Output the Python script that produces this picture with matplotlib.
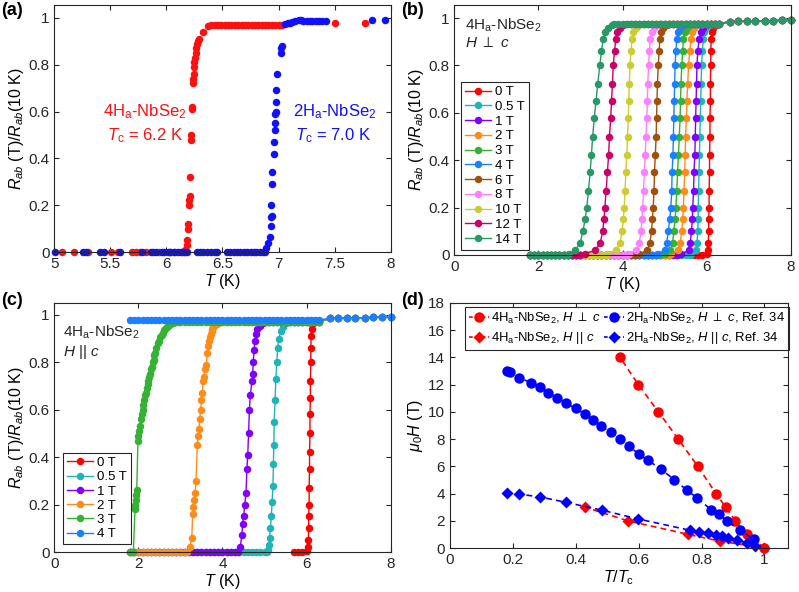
import matplotlib
matplotlib.use('Agg')
import matplotlib.pyplot as plt
from matplotlib.ticker import FuncFormatter, FixedLocator

plt.rcParams.update({
    'font.family': ['Liberation Sans', 'DejaVu Sans'],
    'mathtext.fontset': 'custom',
    'mathtext.rm': 'Liberation Sans',
    'mathtext.it': 'Liberation Sans:italic',
    'mathtext.bf': 'Liberation Sans:bold',
    'mathtext.fallback': 'stixsans',
    'font.size': 10,
    'axes.edgecolor': '#262626',
    'axes.linewidth': 0.8,
    'xtick.color': '#262626', 'ytick.color': '#262626',
    'xtick.direction': 'in', 'ytick.direction': 'in',
    'xtick.top': True, 'ytick.right': True,
    'xtick.major.size': 3.5, 'ytick.major.size': 3.5,
    'xtick.major.width': 0.8, 'ytick.major.width': 0.8,
    'xtick.labelsize': 11, 'ytick.labelsize': 11,
    'axes.labelsize': 11.5,
})

# ---------------- panel (a) data ----------------
a_red_T = [5.065, 5.18, 5.30, 5.51, 5.57, 5.69, 5.73, 5.76, 5.82, 5.93, 6.03, 6.08, 6.14, 6.17,
           6.17, 6.18, 6.185, 6.19, 6.195, 6.2, 6.205, 6.21, 6.21, 6.22, 6.22, 6.225, 6.23, 6.235,
           6.24, 6.245, 6.245, 6.25, 6.255, 6.26, 6.265, 6.27, 6.28, 6.29, 6.33, 6.37,
           6.40, 6.43, 6.46, 6.49, 6.52, 6.55, 6.58, 6.61, 6.64, 6.67, 6.70, 6.73, 6.76, 6.79,
           6.82, 6.85, 6.88, 6.91, 6.94, 6.97, 7.00, 7.03, 7.5, 7.77]
a_red_R = [0, 0, 0, 0, 0, 0, 0, 0, 0, 0, 0, 0, 0, 0,
           0.01, 0.03, 0.05, 0.1, 0.12, 0.2, 0.22, 0.24, 0.32, 0.48, 0.5, 0.61, 0.62, 0.72,
           0.74, 0.76, 0.79, 0.81, 0.83, 0.85, 0.87, 0.89, 0.9, 0.91, 0.94, 0.965,
           0.97, 0.97, 0.97, 0.97, 0.97, 0.97, 0.97, 0.97, 0.97, 0.97, 0.97, 0.97, 0.97, 0.97,
           0.97, 0.97, 0.97, 0.97, 0.97, 0.97, 0.97, 0.97, 0.98, 0.98]
a_blue_T = [5.01, 5.26, 5.28, 5.41, 5.44, 5.59, 5.78, 5.86, 5.88, 5.91, 5.96, 5.98, 6.01, 6.03,
            6.07, 6.1, 6.13, 6.16, 6.18, 6.27, 6.3, 6.33, 6.36, 6.4, 6.43, 6.45, 6.54, 6.57,
            6.6, 6.63, 6.66, 6.69, 6.72, 6.75, 6.78, 6.8, 6.83, 6.86,
            6.88, 6.89, 6.91, 6.92, 6.93, 6.935, 6.94, 6.935, 6.945, 6.945, 6.955, 6.96, 6.965,
            6.97, 6.97, 6.975, 6.975, 6.98, 6.99, 7.02, 7.025, 7.03,
            7.06, 7.08, 7.1, 7.12, 7.15, 7.18, 7.2, 7.22, 7.25, 7.28, 7.3, 7.33, 7.36, 7.39, 7.42,
            7.83, 7.95]
a_blue_R = [0] * 38 + \
           [0.0, 0.015, 0.04, 0.065, 0.11, 0.15, 0.155, 0.2, 0.29, 0.34, 0.42, 0.47, 0.52,
            0.55, 0.59, 0.6, 0.64, 0.69, 0.76, 0.85, 0.87, 0.88,
            0.975, 0.978, 0.98, 0.982, 0.985, 0.99, 0.99, 0.985, 0.985, 0.985, 0.987, 0.987,
            0.987, 0.988, 0.988, 0.99, 0.99]

# ---------------- shared temperature grids (panels b, c) ----------------
T_grid = [1.8, 1.9, 2.0, 2.1, 2.2, 2.3, 2.4, 2.5, 2.6, 2.7, 2.8, 2.9, 3.0, 3.1, 3.2, 3.3, 3.4,
          3.5, 3.6, 3.7, 3.8, 3.9, 4.0, 4.1, 4.2, 4.3, 4.4, 4.5, 4.6, 4.7, 4.8, 4.9, 5.0, 5.1,
          5.2, 5.3, 5.4, 5.5, 5.6, 5.7, 5.8, 5.9, 6.0, 6.1, 6.2, 6.3]
T_hi = [6.55, 6.75, 6.95, 7.15, 7.38, 7.58, 7.79, 8.0]
R_hi = [0.985, 0.986, 0.987, 0.988, 0.988, 0.989, 0.99, 0.99]

# ---------------- panel (b) data ----------------
b_labels = ['0 T', '0.5 T', '1 T', '2 T', '3 T', '4 T', '6 T', '8 T', '10 T', '12 T', '14 T']
b_colors = ['#ff0000', '#1fb5b8', '#8000ff', '#ff8c1a', '#33b233', '#1a80ff', '#a0500a',
            '#ff80ff', '#cccc33', '#cc0066', '#269966']
b_T_start = [5.7, 1.8, 1.8, 1.8, 1.8, 1.8, 1.8, 1.8, 1.8, 1.8, 1.8]
b_R_tr = [0.005, 0.02, 0.05, 0.1, 0.15, 0.2, 0.27, 0.35, 0.42, 0.5, 0.58, 0.65, 0.72, 0.8,
          0.86, 0.91, 0.94, 0.96, 0.97]
b_T_tr = [
    [6.0, 6.03, 6.04, 6.05, 6.05, 6.06, 6.06, 6.07, 6.07, 6.08, 6.08, 6.09, 6.09, 6.1, 6.1, 6.11, 6.13, 6.16, 6.22],
    [5.62, 5.74, 5.77, 5.79, 5.8, 5.8, 5.81, 5.82, 5.83, 5.84, 5.85, 5.86, 5.87, 5.88, 5.9, 5.92, 5.95, 5.99, 6.06],
    [5.4, 5.57, 5.61, 5.64, 5.66, 5.67, 5.69, 5.7, 5.72, 5.73, 5.74, 5.75, 5.76, 5.77, 5.79, 5.82, 5.86, 5.91, 5.98],
    [5.15, 5.32, 5.37, 5.41, 5.43, 5.45, 5.46, 5.48, 5.49, 5.5, 5.52, 5.53, 5.55, 5.57, 5.6, 5.63, 5.66, 5.71, 5.78],
    [5.0, 5.14, 5.19, 5.22, 5.25, 5.27, 5.29, 5.31, 5.33, 5.35, 5.37, 5.38, 5.39, 5.41, 5.43, 5.45, 5.48, 5.53, 5.6],
    [4.85, 5.0, 5.05, 5.09, 5.12, 5.15, 5.17, 5.18, 5.2, 5.21, 5.22, 5.23, 5.24, 5.25, 5.27, 5.29, 5.32, 5.37, 5.45],
    [4.4, 4.59, 4.65, 4.69, 4.71, 4.73, 4.75, 4.76, 4.78, 4.8, 4.81, 4.82, 4.83, 4.85, 4.87, 4.89, 4.92, 4.97, 5.05],
    [4.15, 4.33, 4.4, 4.44, 4.46, 4.48, 4.5, 4.52, 4.54, 4.56, 4.58, 4.59, 4.6, 4.62, 4.64, 4.66, 4.69, 4.74, 4.82],
    [3.62, 3.85, 3.94, 3.99, 4.02, 4.04, 4.06, 4.08, 4.1, 4.12, 4.14, 4.15, 4.16, 4.18, 4.2, 4.23, 4.26, 4.31, 4.4],
    [3.1, 3.35, 3.47, 3.53, 3.56, 3.58, 3.61, 3.64, 3.67, 3.69, 3.72, 3.74, 3.76, 3.78, 3.81, 3.84, 3.87, 3.93, 4.02],
    [2.72, 2.88, 2.99, 3.06, 3.11, 3.15, 3.19, 3.23, 3.26, 3.29, 3.33, 3.37, 3.41, 3.46, 3.5, 3.54, 3.59, 3.66, 3.76],
]
b_R_plat = 0.975

# ---------------- panel (c) data ----------------
c_labels = ['0 T', '0.5 T', '1 T', '2 T', '3 T', '4 T']
c_colors = ['#ff0000', '#1fb5b8', '#8000ff', '#ff8c1a', '#33b233', '#1a80ff']
c_T_start = [5.7, 1.8, 1.8, 1.8, 1.8, 1.8]
c_T_0T = [6.0, 6.03, 6.04, 6.05, 6.05, 6.06, 6.06, 6.07, 6.07, 6.08, 6.08, 6.09, 6.09, 6.1, 6.1,
          6.11, 6.12, 6.14, 6.18]
c_R_0T = [0.005, 0.02, 0.05, 0.1, 0.15, 0.2, 0.27, 0.35, 0.42, 0.5, 0.58, 0.65, 0.72, 0.8,
          0.86, 0.91, 0.94, 0.96, 0.97]
c_T_05T = [5.05, 5.08, 5.1, 5.12, 5.14, 5.16, 5.18, 5.2, 5.21, 5.22, 5.23, 5.25, 5.27, 5.29,
           5.31, 5.34, 5.38, 5.43, 5.5]
c_R_05T = [0.0, 0.01, 0.03, 0.06, 0.1, 0.15, 0.21, 0.28, 0.37, 0.45, 0.55, 0.64, 0.73, 0.8,
           0.86, 0.9, 0.93, 0.95, 0.965]
c_T_1T = [4.38, 4.42, 4.46, 4.48, 4.5, 4.53, 4.56, 4.58, 4.6, 4.62, 4.64, 4.66, 4.7, 4.72, 4.73,
          4.75, 4.77, 4.8, 4.83, 4.89, 4.97, 5.05]
c_R_1T = [0.0, 0.02, 0.07, 0.12, 0.15, 0.2, 0.25, 0.35, 0.41, 0.5, 0.6, 0.66, 0.72, 0.75, 0.8,
          0.85, 0.89, 0.92, 0.94, 0.955, 0.965, 0.97]
c_T_2T = [3.15, 3.22, 3.27, 3.29, 3.31, 3.33, 3.35, 3.37, 3.4, 3.42, 3.44, 3.46, 3.48, 3.5, 3.52,
          3.54, 3.56, 3.58, 3.61, 3.64, 3.66, 3.68, 3.7, 3.72, 3.74, 3.76, 3.78, 3.8, 3.83,
          3.86, 3.9, 3.95, 4.0]
c_R_2T = [0.0, 0.02, 0.06, 0.16, 0.19, 0.22, 0.25, 0.3, 0.45, 0.49, 0.52, 0.56, 0.6, 0.64, 0.67,
          0.72, 0.74, 0.77, 0.79, 0.84, 0.87, 0.89, 0.905, 0.92, 0.93, 0.94, 0.948, 0.955, 0.96,
          0.963, 0.966, 0.968, 0.97]
c_T_3T = [1.8, 1.85, 1.88, 1.92, 1.93, 1.94, 1.95, 1.96, 1.99, 2.0, 2.02, 2.04, 2.06, 2.08, 2.1,
          2.12, 2.14, 2.16, 2.18, 2.2, 2.22, 2.24, 2.26, 2.28, 2.3, 2.32, 2.34, 2.36, 2.38, 2.4,
          2.43, 2.46, 2.49, 2.52, 2.55, 2.58, 2.61, 2.64, 2.67, 2.7, 2.73, 2.76, 2.79, 2.83,
          2.87, 2.92, 2.97]
c_R_3T = [0, 0, 0, 0.18, 0.2, 0.22, 0.24, 0.26, 0.47, 0.49, 0.51, 0.53, 0.56, 0.58, 0.6, 0.62,
          0.64, 0.66, 0.67, 0.69, 0.71, 0.72, 0.74, 0.75, 0.77, 0.78, 0.8, 0.81, 0.83, 0.84,
          0.86, 0.88, 0.89, 0.905, 0.915, 0.925, 0.935, 0.94, 0.948, 0.953, 0.958, 0.961,
          0.964, 0.966, 0.968, 0.969, 0.97]
c_R_4T = 0.979
c_R_plat = 0.97

# ---------------- panel (d) data ----------------
d_red_perp_x = [1.0, 0.944, 0.907, 0.877, 0.846, 0.788, 0.726, 0.663, 0.599, 0.541]
d_red_perp_y = [0, 1, 2, 3, 4, 6, 8, 10, 12, 14]
d_red_par_x = [1.0, 0.859, 0.758, 0.565, 0.43]
d_red_par_y = [0, 0.5, 1, 2, 3]
d_blue_perp_x = [0.18, 0.19, 0.22, 0.258, 0.286, 0.313, 0.339, 0.368, 0.4, 0.429, 0.454, 0.481,
                 0.511, 0.541, 0.568, 0.6, 0.629, 0.67, 0.713, 0.753, 0.785, 0.83, 0.854, 0.882,
                 0.923, 0.966]
d_blue_perp_y = [12.97, 12.9, 12.5, 12.15, 11.85, 11.4, 11.05, 10.63, 10.26, 9.82, 9.4, 8.96,
                 8.5, 8.03, 7.51, 6.9, 6.46, 5.8, 5.03, 4.25, 3.7, 2.82, 2.5, 1.95, 1.3, 0.65]
d_blue_par_x = [0.18, 0.22, 0.285, 0.37, 0.483, 0.597, 0.764, 0.793, 0.822, 0.846, 0.866, 0.885,
                0.912, 0.944, 0.97]
d_blue_par_y = [4.05, 3.95, 3.76, 3.35, 2.78, 2.14, 1.3, 1.2, 1.08, 0.98, 0.85, 0.72, 0.58,
                0.38, 0.12]


def build(T_tr, R_tr, T_start, R_plat):
    low = [t for t in T_grid if T_start <= t < T_tr[0]]
    plat = [t for t in T_grid if t > T_tr[-1]]
    T = low + list(T_tr) + plat + list(T_hi)
    R = [0.0] * len(low) + list(R_tr) + [R_plat] * len(plat) + list(R_hi)
    return T, R


fmt = FuncFormatter(lambda v, p: '%g' % round(v, 6))

fig = plt.figure(figsize=(7.99, 5.92), dpi=100)
W, H = 799.0, 592.0
axA = fig.add_axes([54.3 / W, (H - 252) / H, 336.4 / W, 247 / H])
axB = fig.add_axes([454.3 / W, (H - 255) / H, 336.4 / W, 250 / H])
axC = fig.add_axes([54.3 / W, (H - 552) / H, 336.4 / W, 249 / H])
axD = fig.add_axes([450 / W, (H - 548) / H, 338 / W, 245 / H])

ylab = r'$R_{ab}$ (T)/$R_{ab}$(10 K)'
MS = 5.4
legkw = dict(loc='upper left', borderaxespad=0, fontsize=9.5, handlelength=2.0,
             handletextpad=0.3, borderpad=0.3, fancybox=False,
             framealpha=1, edgecolor='#262626')

# ----- (a) -----
axA.plot(a_red_T, a_red_R, 'o', color='#ff1010', ms=5.4, mec='none', clip_on=False)
axA.plot(a_blue_T, a_blue_R, 'o', color='#1010ff', ms=5.4, mec='none', clip_on=False)
axA.set_xlim(5, 8)
axA.set_ylim(0, 1.055)
axA.xaxis.set_major_locator(FixedLocator([5, 5.5, 6, 6.5, 7, 7.5, 8]))
axA.yaxis.set_major_locator(FixedLocator([0, 0.2, 0.4, 0.6, 0.8, 1]))
axA.text(5.435, 0.6, r'4H$_{\rm a}$-NbSe$_2$', color='#ff1010', fontsize=12, va='center')
axA.text(5.47, 0.497, r'$T_{\rm c}$ = 6.2 K', color='#ff1010', fontsize=12, va='center')
axA.text(7.13, 0.6, r'2H$_{\rm a}$-NbSe$_2$', color='#1010ff', fontsize=12, va='center')
axA.text(7.15, 0.497, r'$T_{\rm c}$ = 7.0 K', color='#1010ff', fontsize=12, va='center')
axA.set_xlabel(r'$T$ (K)', labelpad=1)
axA.set_ylabel(ylab, labelpad=2)

# ----- (b) -----
for lab, col, ts, ttr in zip(b_labels, b_colors, b_T_start, b_T_tr):
    T, R = build(ttr, b_R_tr, ts, b_R_plat)
    axB.plot(T, R, '-o', color=col, ms=MS, lw=1.0, mec='none', clip_on=False, label=lab)
axB.set_xlim(0, 8)
axB.set_ylim(0, 1.055)
axB.xaxis.set_major_locator(FixedLocator([0, 2, 4, 6, 8]))
axB.yaxis.set_major_locator(FixedLocator([0, 0.2, 0.4, 0.6, 0.8, 1]))
axB.text(0.25, 0.97, r'4H$_{\rm a}$-NbSe$_2$', fontsize=11, va='center', color='#262626')
axB.text(0.25, 0.896, r'$H$ $\perp$ $c$', fontsize=11, va='center', color='#262626')
axB.set_xlabel(r'$T$ (K)', labelpad=1)
axB.set_ylabel(ylab, labelpad=2)
lg = axB.legend(bbox_to_anchor=(0.02, 0.692), labelspacing=0.19, **legkw)
lg.get_frame().set_linewidth(0.8)

# ----- (c) -----
c_T_tr = [c_T_0T, c_T_05T, c_T_1T, c_T_2T, c_T_3T]
c_R_tr = [c_R_0T, c_R_05T, c_R_1T, c_R_2T, c_R_3T]
for i in range(5):
    T, R = build(c_T_tr[i], c_R_tr[i], c_T_start[i], c_R_plat)
    axC.plot(T, R, '-o', color=c_colors[i], ms=MS, lw=1.0, mec='none', clip_on=False,
             label=c_labels[i])
T4 = list(T_grid) + list(T_hi)
R4 = [c_R_4T] * len(T_grid) + list(R_hi)
axC.plot(T4, R4, '-o', color=c_colors[5], ms=MS, lw=1.0, mec='none', clip_on=False,
         label=c_labels[5])
axC.set_xlim(0, 8)
axC.set_ylim(0, 1.05)
axC.xaxis.set_major_locator(FixedLocator([0, 2, 4, 6, 8]))
axC.yaxis.set_major_locator(FixedLocator([0, 0.2, 0.4, 0.6, 0.8, 1]))
axC.text(0.2, 0.925, r'4H$_{\rm a}$-NbSe$_2$', fontsize=11, va='center', color='#262626')
axC.text(0.2, 0.845, r'$H$ || $c$', fontsize=11, va='center', color='#262626')
axC.set_xlabel(r'$T$ (K)', labelpad=1)
axC.set_ylabel(ylab, labelpad=2)
lg = axC.legend(bbox_to_anchor=(0.026, 0.398), labelspacing=0.15, **legkw)
lg.get_frame().set_linewidth(0.8)

# ----- (d) -----
dkw = dict(ls='--', lw=1.2, dashes=(3.5, 2.5), clip_on=False, mec='none')
axD.plot(d_red_perp_x, d_red_perp_y, marker='o', color='#ff0000', ms=7.5,
         label=r'4H$_{\rm a}$-NbSe$_2$, $H$ $\perp$ $c$', **dkw)
axD.plot(d_red_par_x, d_red_par_y, marker='D', color='#ff0000', ms=6.2,
         label=r'4H$_{\rm a}$-NbSe$_2$, $H$ || $c$', **dkw)
axD.plot(d_blue_perp_x, d_blue_perp_y, marker='o', color='#0000ff', ms=7.5,
         label=r'2H$_{\rm a}$-NbSe$_2$, $H$ $\perp$ $c$, Ref. 34', **dkw)
axD.plot(d_blue_par_x, d_blue_par_y, marker='D', color='#0000ff', ms=6.2,
         label=r'2H$_{\rm a}$-NbSe$_2$, $H$ || $c$, Ref. 34', **dkw)
axD.set_xlim(0, 1.075)
axD.set_ylim(0, 18)
axD.xaxis.set_major_locator(FixedLocator([0, 0.2, 0.4, 0.6, 0.8, 1]))
axD.yaxis.set_major_locator(FixedLocator(list(range(0, 19, 2))))
axD.set_xlabel(r'$T/T_{\rm c}$', labelpad=1)
axD.set_ylabel(r'$\mu_{\rm 0}H$ (T)', labelpad=2)
lg = axD.legend(loc='upper left', bbox_to_anchor=(0.044, 0.984), borderaxespad=0, ncol=2,
                fontsize=9.4, handlelength=1.55, handletextpad=0.15, labelspacing=0.32,
                columnspacing=0.2, borderpad=0.3, fancybox=False, framealpha=1,
                edgecolor='#262626')
lg.get_frame().set_linewidth(0.8)
for ln in lg.get_lines():
    ln.set_dashes((2.2, 1.6))

for ax in (axA, axB, axC, axD):
    ax.xaxis.set_major_formatter(fmt)
    ax.yaxis.set_major_formatter(fmt)
    for s in ax.spines.values():
        s.set_zorder(10)

fig.text(1 / W, 1 - 2 / H, '(a)', fontweight='bold', fontsize=13, va='top', ha='left')
fig.text(401 / W, 1 - 2 / H, '(b)', fontweight='bold', fontsize=13, va='top', ha='left')
fig.text(1 / W, 1 - 292 / H, '(c)', fontweight='bold', fontsize=13, va='top', ha='left')
fig.text(401 / W, 1 - 292 / H, '(d)', fontweight='bold', fontsize=13, va='top', ha='left')

fig.savefig('out.png', dpi=100)
